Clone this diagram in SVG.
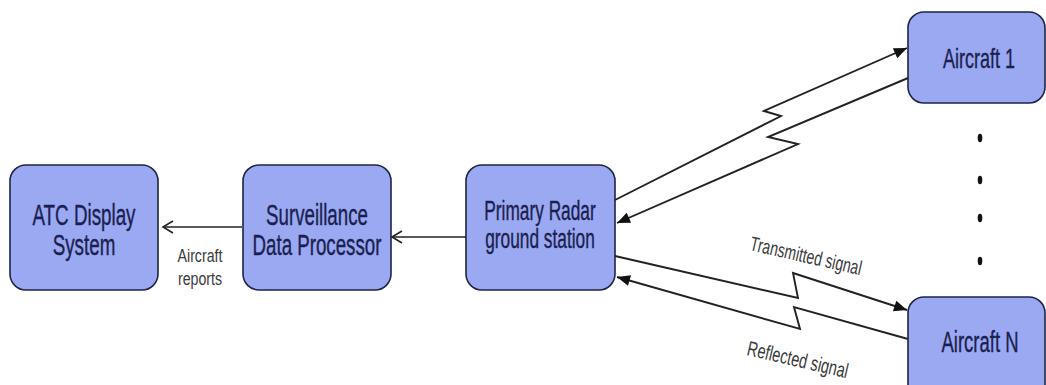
<svg xmlns="http://www.w3.org/2000/svg" width="1046" height="385" viewBox="0 0 1046 385">
<style>
.box{fill:#9aa9f2;stroke:#1e2444;stroke-width:1.6}
.nt{font-family:"Liberation Sans",Arial,sans-serif;fill:#1b1f4f;text-anchor:middle;stroke:#1b1f4f;stroke-width:0.25}
.lt{font-family:"Liberation Sans",Arial,sans-serif;fill:#3a3a3a}
.ln{fill:none;stroke:#222;stroke-width:1.9;stroke-linejoin:miter}
.ln2{fill:none;stroke:#222;stroke-width:1.5}
</style>
<defs>
<marker id="fa" markerUnits="userSpaceOnUse" viewBox="-15 -8 17 16" markerWidth="17" markerHeight="16" refX="0" refY="0" orient="auto">
<path d="M0,0 L-13,-5.5 L-13,5.5 Z" fill="#111"/>
</marker>
<marker id="oa" markerUnits="userSpaceOnUse" viewBox="-13 -8 15 16" markerWidth="15" markerHeight="16" refX="0" refY="0" orient="auto">
<path d="M-10,-6 L0,0 L-10,6" fill="none" stroke="#222" stroke-width="1.6"/>
</marker>
</defs>
<g id="atc">
<rect class="box" x="10" y="165" width="148" height="125" rx="16"/>
<text class="nt" font-size="18.8" transform="translate(84,225) scale(1,1.55)">ATC Display</text>
<text class="nt" font-size="18.8" transform="translate(84,255) scale(1,1.55)">System</text>
</g>
<g id="sdp">
<rect class="box" x="243" y="165" width="148" height="125" rx="16"/>
<text class="nt" font-size="18.7" transform="translate(317,225) scale(1,1.55)">Surveillance</text>
<text class="nt" font-size="18.7" transform="translate(317,255) scale(1,1.55)">Data Processor</text>
</g>
<g id="radar">
<rect class="box" x="466" y="165" width="149" height="125" rx="16"/>
<text class="nt" font-size="17.3" transform="translate(540,220) scale(1,1.55)">Primary Radar</text>
<text class="nt" font-size="17.3" transform="translate(540,248) scale(1,1.55)">ground station</text>
</g>
<g id="aircraft1">
<rect class="box" x="908" y="12" width="137" height="91" rx="16"/>
<text class="nt" font-size="18" transform="translate(979,68) scale(1,1.55)">Aircraft 1</text>
</g>
<g id="aircraftN">
<rect class="box" x="908" y="297" width="137" height="110" rx="16"/>
<text class="nt" font-size="18.5" transform="translate(980,352) scale(1,1.55)">Aircraft N</text>
</g>
<g id="dots" fill="#111">
<ellipse cx="980" cy="138" rx="2.3" ry="4.2"/>
<ellipse cx="980" cy="180" rx="2.3" ry="4.2"/>
<ellipse cx="980" cy="218" rx="2.3" ry="4.2"/>
<ellipse cx="980" cy="261" rx="2.3" ry="4.2"/>
</g>
<g id="connectors">
<line class="ln2" x1="242" y1="227" x2="163" y2="227" marker-end="url(#oa)"/>
<line class="ln2" x1="466" y1="237" x2="392" y2="237" marker-end="url(#oa)"/>
<polyline class="ln" points="615,200 781,116 764,111 907,48" marker-end="url(#fa)"/>
<polyline class="ln" points="908,78 768,137 798,144 617,223" marker-end="url(#fa)"/>
<polyline class="ln" points="615,256 798,298 793,273 907,310" marker-end="url(#fa)"/>
<polyline class="ln" points="908,339 794,307 800,329 617,277" marker-end="url(#fa)"/>
</g>
<g id="labels">
<text class="lt" font-size="14.2" text-anchor="middle" transform="translate(200,262) scale(1,1.35)">Aircraft</text>
<text class="lt" font-size="14.2" text-anchor="middle" transform="translate(200,285) scale(1,1.35)">reports</text>
<text class="lt" font-size="14" transform="translate(749,250) rotate(12.8) scale(1,1.45)">Transmitted signal</text>
<text class="lt" font-size="14.5" transform="translate(746,355) rotate(13) scale(1,1.45)">Reflected signal</text>
</g>
</svg>
